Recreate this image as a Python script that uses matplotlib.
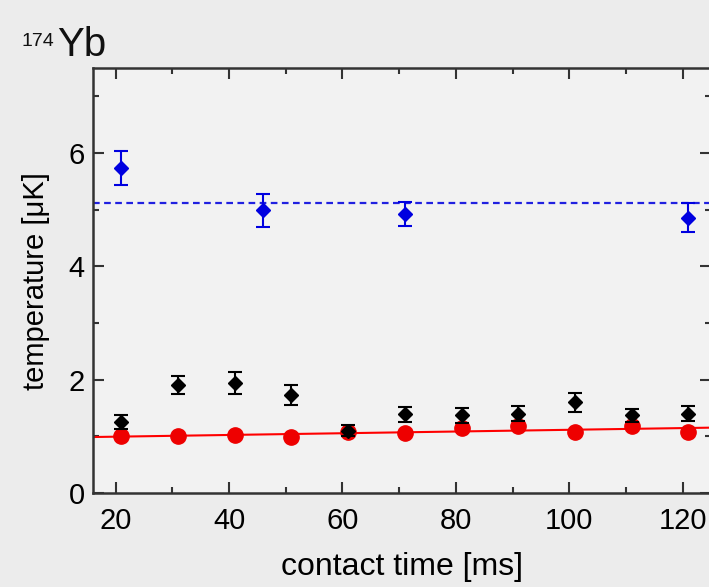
import numpy as np
import matplotlib.pyplot as plt

plt.rcParams['font.family'] = ['Liberation Sans', 'DejaVu Sans']

# red circles (no error bars)
red_t = [21, 31, 41, 51, 61, 71, 81, 91, 101, 111, 121]
red_T = [1.00, 1.00, 1.02, 0.99, 1.08, 1.06, 1.15, 1.18, 1.07, 1.18, 1.07]

# black diamonds
black_t = [21, 31, 41, 51, 61, 71, 81, 91, 101, 111, 121]
black_T = [1.25, 1.90, 1.94, 1.73, 1.10, 1.39, 1.37, 1.40, 1.60, 1.37, 1.40]
black_err = [0.12, 0.16, 0.19, 0.17, 0.10, 0.13, 0.13, 0.13, 0.17, 0.12, 0.13]

# blue diamonds
blue_t = [21, 46, 71, 121]
blue_T = [5.73, 4.99, 4.92, 4.86]
blue_err = [0.30, 0.29, 0.21, 0.26]

fig = plt.figure(figsize=(7.09, 5.87), dpi=100, facecolor='#ececec')
ax = fig.add_axes([0.131, 0.160, 0.872, 0.724])
ax.set_facecolor('#f2f2f2')

# linear fit through red points
p = np.polyfit(red_t, red_T, 1)
xf = np.array([16, 125])
ax.plot(xf, np.polyval(p, xf), color='red', lw=1.5, zorder=2)

# mean of blue points
ax.axhline(np.mean(blue_T), color='#2020e0', ls=(0, (3, 2)), lw=1.6, zorder=2)

ax.plot(red_t, red_T, 'o', color='#ee0000', ms=11, zorder=3)
ax.errorbar(black_t, black_T, yerr=black_err, fmt='D', color='black', ms=7,
            elinewidth=1.5, capsize=5, capthick=1.5, zorder=4)
ax.errorbar(blue_t, blue_T, yerr=blue_err, fmt='D', color='#0000e0', ms=7,
            elinewidth=1.5, capsize=5, capthick=1.5, zorder=4)

ax.set_xlim(16, 125)
ax.set_ylim(0, 7.5)
ax.set_xticks([20, 40, 60, 80, 100, 120])
ax.set_xticks([30, 50, 70, 90, 110], minor=True)
ax.set_yticks([0, 2, 4, 6])
ax.set_yticks([1, 3, 5, 7], minor=True)
ax.tick_params(which='both', direction='in', top=True, right=True,
               color='#333333', width=1.5, labelsize=21, pad=6)
ax.tick_params(axis='x', which='major', pad=10)
ax.tick_params(which='major', length=8)
ax.tick_params(which='minor', length=4)
for s in ax.spines.values():
    s.set_linewidth(1.8)
    s.set_color('#333333')

ax.set_xlabel('contact time [ms]', fontsize=23, labelpad=12)
ax.set_ylabel('temperature [\u03bcK]', fontsize=21, labelpad=13)

fig.text(0.031, 0.922, '174', fontsize=14, color='#111111')
fig.text(0.080, 0.905, 'Yb', fontsize=29, color='#111111')

fig.savefig('out.png', dpi=100, facecolor=fig.get_facecolor())
